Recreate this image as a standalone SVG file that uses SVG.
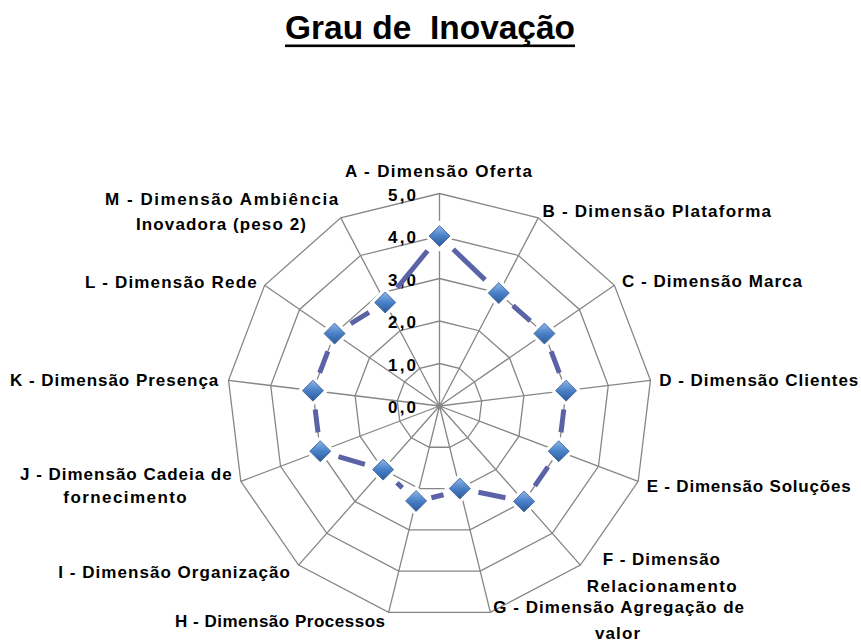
<svg xmlns="http://www.w3.org/2000/svg" xmlns:xlink="http://www.w3.org/1999/xlink" width="861" height="642" viewBox="0 0 861 642">
<style>
  .grid { fill: none; stroke: #868686; stroke-width: 1.3; }
  .lbl { font-family: "Liberation Sans", Arial, sans-serif; font-weight: bold; font-size: 17px; fill: #000; }
  .tick { font-family: "Liberation Sans", Arial, sans-serif; font-weight: bold; font-size: 17px; fill: #000; text-anchor: end; }
  .title { font-family: "Liberation Sans", Arial, sans-serif; font-weight: bold; font-size: 34px; fill: #000; white-space: pre; }
  .series { stroke: #5b63a6; stroke-width: 5; stroke-linecap: butt; fill: none; }
</style>
<defs>
  <linearGradient id="mk" x1="0" y1="0" x2="0" y2="1">
    <stop offset="0" stop-color="#8cb6ea"/>
    <stop offset="0.5" stop-color="#4a80c8"/>
    <stop offset="1" stop-color="#2a5a9a"/>
  </linearGradient>
  <g id="diamond">
    <path d="M0,-10.5 L10.5,0 L0,10.5 L-10.5,0 Z" fill="#fff" stroke="#fff" stroke-width="7" stroke-linejoin="miter"/>
    <path d="M0,-10.5 L10.5,0 L0,10.5 L-10.5,0 Z" fill="url(#mk)" stroke="#3b5e91" stroke-width="0.8"/>
  </g>
</defs>
<rect width="861" height="642" fill="#fff"/>

<g id="title">
  <text class="title" x="285" y="39.3" textLength="290" lengthAdjust="spacingAndGlyphs" xml:space="preserve">Grau de  Inovação</text>
  <rect x="285" y="44.5" width="290" height="2.6" fill="#000"/>
</g>

<g id="grid">
  <polygon class="grid" points="439.5,193.5 538.25,217.84 614.38,285.29 650.45,380.39 638.19,481.35 580.41,565.06 490.36,612.32 388.64,612.32 298.59,565.06 240.81,481.35 228.55,380.39 264.62,285.29 340.75,217.84"/>
  <polygon class="grid" points="439.5,236 518.5,255.47 579.41,309.43 608.26,385.51 598.45,466.28 552.23,533.25 480.18,571.06 398.82,571.06 326.77,533.25 280.55,466.28 270.74,385.51 299.59,309.43 360.5,255.47"/>
  <polygon class="grid" points="439.5,278.5 498.75,293.1 544.43,333.57 566.07,390.63 558.72,451.21 524.05,501.43 470.01,529.79 408.99,529.79 354.95,501.43 320.28,451.21 312.93,390.63 334.57,333.57 380.25,293.1"/>
  <polygon class="grid" points="439.5,321 479,330.74 509.45,357.71 523.88,395.75 518.98,436.14 495.87,469.62 459.84,488.53 419.16,488.53 383.13,469.62 360.02,436.14 355.12,395.75 369.55,357.71 400,330.74"/>
  <polygon class="grid" points="439.5,363.5 459.25,368.37 474.48,381.86 481.69,400.88 479.24,421.07 467.68,437.81 449.67,447.26 429.33,447.26 411.32,437.81 399.76,421.07 397.31,400.88 404.52,381.86 419.75,368.37"/>
  <path class="grid" d="M439.5,406 L439.5,193.5 M439.5,406 L538.25,217.84 M439.5,406 L614.38,285.29 M439.5,406 L650.45,380.39 M439.5,406 L638.19,481.35 M439.5,406 L580.41,565.06 M439.5,406 L490.36,612.32 M439.5,406 L388.64,612.32 M439.5,406 L298.59,565.06 M439.5,406 L240.81,481.35 M439.5,406 L228.55,380.39 M439.5,406 L264.62,285.29 M439.5,406 L340.75,217.84"/>
</g>

<g id="ticks">
  <text class="tick" x="416" y="200.5" textLength="28">5,0</text>
  <text class="tick" x="416" y="243" textLength="28">4,0</text>
  <text class="tick" x="416" y="285.5" textLength="28">3,0</text>
  <text class="tick" x="416" y="328" textLength="28">2,0</text>
  <text class="tick" x="416" y="370.5" textLength="28">1,0</text>
  <text class="tick" x="416" y="413" textLength="28">0,0</text>
</g>

<g id="series-line">
  <line class="series" x1="453.18" y1="249.19" x2="485.07" y2="279.91"/>
  <line class="series" x1="512.97" y1="305.70" x2="530.21" y2="320.97"/>
  <line class="series" x1="551.17" y1="351.34" x2="559.33" y2="372.87"/>
  <line class="series" x1="563.78" y1="409.49" x2="561.01" y2="432.35"/>
  <line class="series" x1="547.93" y1="466.85" x2="534.84" y2="485.80"/>
  <line class="series" x1="505.42" y1="497.69" x2="478.47" y2="492.27"/>
  <line class="series" x1="443.56" y1="494.71" x2="431.39" y2="497.74"/>
  <line class="series" x1="402.32" y1="487.83" x2="396.91" y2="482.70"/>
  <line class="series" x1="364.89" y1="464.28" x2="338.51" y2="456.55"/>
  <line class="series" x1="317.99" y1="432.35" x2="315.22" y2="409.49"/>
  <line class="series" x1="319.67" y1="372.87" x2="327.83" y2="351.34"/>
  <line class="series" x1="350.76" y1="323.63" x2="369.00" y2="312.45"/>
  <line class="series" x1="397.21" y1="287.79" x2="427.48" y2="250.72"/>
</g>

<g id="series-markers">
  <use xlink:href="#diamond" x="439.5" y="236"/>
  <use xlink:href="#diamond" x="498.75" y="293.1"/>
  <use xlink:href="#diamond" x="544.43" y="333.57"/>
  <use xlink:href="#diamond" x="566.07" y="390.63"/>
  <use xlink:href="#diamond" x="558.72" y="451.21"/>
  <use xlink:href="#diamond" x="524.05" y="501.43"/>
  <use xlink:href="#diamond" x="459.84" y="488.53"/>
  <use xlink:href="#diamond" x="416.11" y="500.91"/>
  <use xlink:href="#diamond" x="383.13" y="469.62"/>
  <use xlink:href="#diamond" x="320.28" y="451.21"/>
  <use xlink:href="#diamond" x="312.93" y="390.63"/>
  <use xlink:href="#diamond" x="334.57" y="333.57"/>
  <use xlink:href="#diamond" x="385.19" y="302.51"/>
</g>

<g id="labels">
  <text id="label-A" class="lbl" x="345" y="177" textLength="187">A - Dimensão Oferta</text>
  <text id="label-B" class="lbl" x="542.5" y="216.7" textLength="228.5">B - Dimensão Plataforma</text>
  <text id="label-C" class="lbl" x="622" y="286.7" textLength="180">C - Dimensão Marca</text>
  <text id="label-D" class="lbl" x="659.3" y="386" textLength="199">D - Dimensão Clientes</text>
  <text id="label-E" class="lbl" x="646.7" y="491.5" textLength="204">E - Dimensão Soluções</text>
  <g id="label-F">
    <text class="lbl" x="602.7" y="565" textLength="117.3">F - Dimensão</text>
    <text class="lbl" x="586.7" y="591.7" textLength="150">Relacionamento</text>
  </g>
  <g id="label-G">
    <text class="lbl" x="493.3" y="613.3" textLength="250.7">G - Dimensão Agregação de</text>
    <text class="lbl" x="595" y="639" textLength="45">valor</text>
  </g>
  <text id="label-H" class="lbl" x="175" y="626.7" textLength="210">H - Dimensão Processos</text>
  <text id="label-I" class="lbl" x="58.3" y="578.3" textLength="231.7">I - Dimensão Organização</text>
  <g id="label-J">
    <text class="lbl" x="20" y="480" textLength="211.7">J - Dimensão Cadeia de</text>
    <text class="lbl" x="63.3" y="503.3" textLength="123.4">fornecimento</text>
  </g>
  <text id="label-K" class="lbl" x="10" y="386" textLength="208.3">K - Dimensão Presença</text>
  <text id="label-L" class="lbl" x="85" y="288.3" textLength="171.7">L - Dimensão Rede</text>
  <g id="label-M">
    <text class="lbl" x="105" y="205" textLength="233.3">M - Dimensão Ambiência</text>
    <text class="lbl" x="136" y="230" textLength="170">Inovadora (peso 2)</text>
  </g>
</g>
</svg>
